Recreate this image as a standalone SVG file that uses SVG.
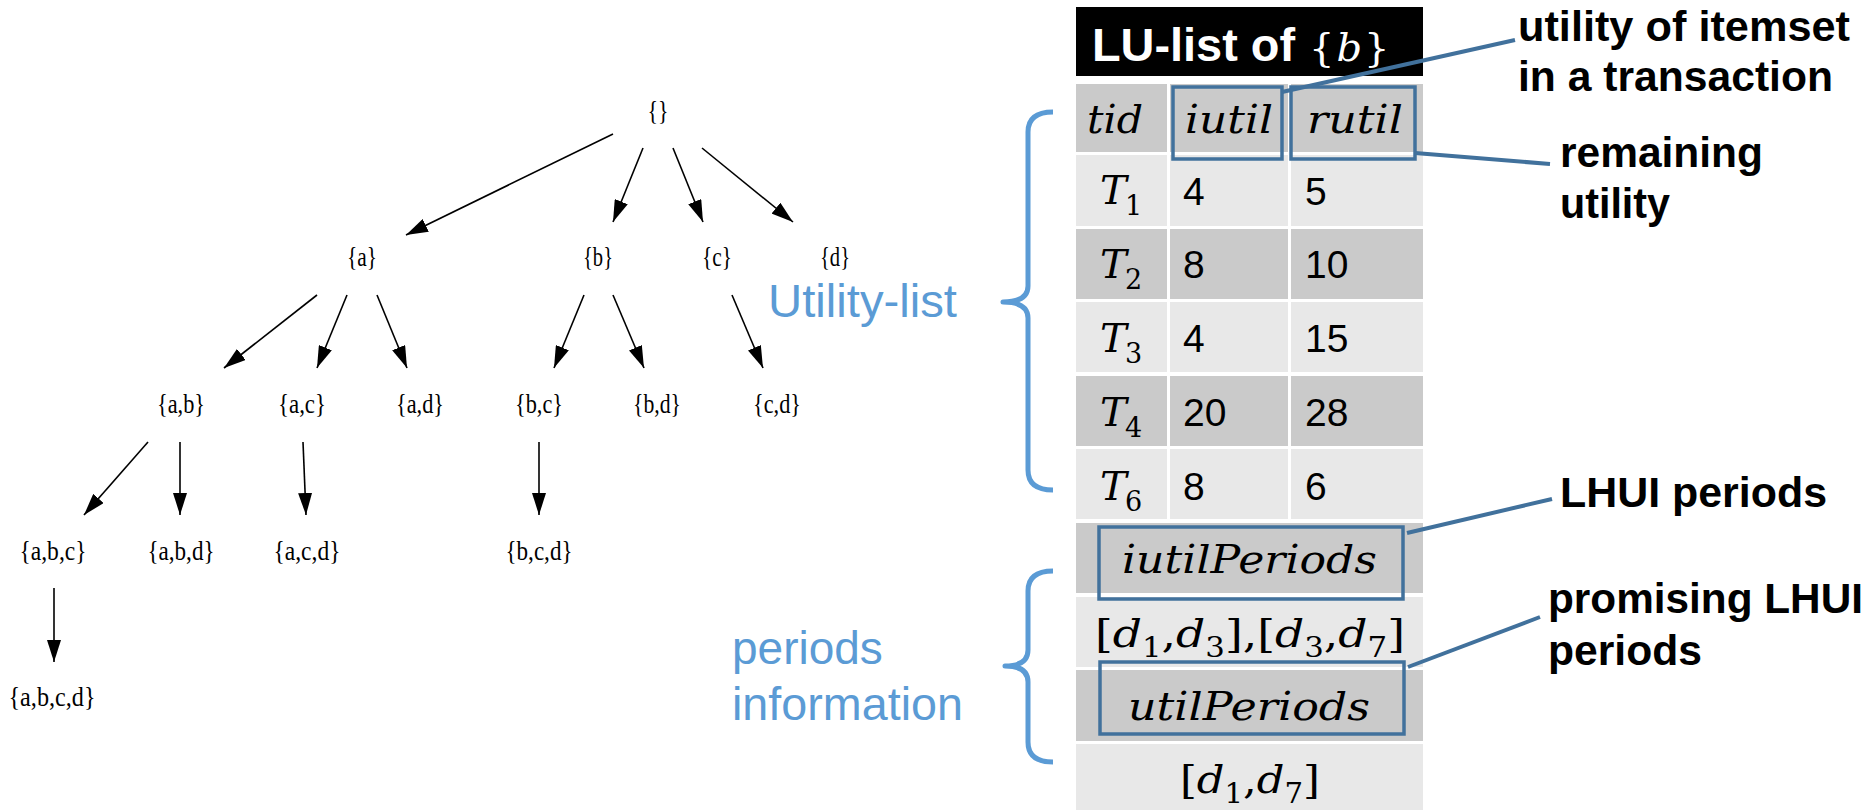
<svg xmlns="http://www.w3.org/2000/svg" width="1872" height="810" viewBox="0 0 1872 810">
<defs>
<style>
.node{font-family:"Liberation Serif","Times New Roman",serif;font-size:28px;fill:#000;text-anchor:middle}
.edge{stroke:#000;stroke-width:1.6;fill:none}
.dk{fill:#cacaca}
.lt{fill:#e8e8e8}
.m{font-family:"DejaVu Serif",serif;font-style:italic;font-size:40px;fill:#000}
.mn{font-family:"DejaVu Serif",serif;font-style:normal;font-size:40px;fill:#000}
.it{font-style:italic}
.sub{font-family:"DejaVu Serif",serif;font-style:normal;font-size:27px;fill:#000}
.num{font-family:"Liberation Sans",Arial,sans-serif;font-size:39px;fill:#000}
.box{fill:none;stroke:#41719c;stroke-width:3.5}
.cl{stroke:#41719c;stroke-width:4;fill:none}
.ct{font-family:"Liberation Sans",Arial,sans-serif;font-weight:bold;font-size:42.67px;fill:#000}
.bl{font-family:"Liberation Sans",Arial,sans-serif;font-size:46px;fill:#5b9bd5}
.brace{fill:none;stroke:#5b9bd5;stroke-width:5;stroke-linejoin:round;stroke-linecap:butt}
.hw{font-family:"DejaVu Serif",serif;font-size:40px;fill:#fff}
</style>
<marker id="ah" markerUnits="userSpaceOnUse" markerWidth="24" markerHeight="14" refX="22" refY="7" orient="auto">
<path d="M0,0 L22,7 L0,14 Z" fill="#000"/>
</marker>
</defs>
<rect width="1872" height="810" fill="#fff"/>

<g id="connectors">
<line class="edge" x1="613" y1="134" x2="406" y2="235" marker-end="url(#ah)"/>
<line class="edge" x1="643" y1="148" x2="613" y2="222" marker-end="url(#ah)"/>
<line class="edge" x1="673" y1="148" x2="703" y2="222" marker-end="url(#ah)"/>
<line class="edge" x1="702" y1="148" x2="793" y2="222" marker-end="url(#ah)"/>
<line class="edge" x1="317" y1="295" x2="224" y2="368" marker-end="url(#ah)"/>
<line class="edge" x1="347" y1="295" x2="317" y2="368" marker-end="url(#ah)"/>
<line class="edge" x1="377" y1="295" x2="407" y2="368" marker-end="url(#ah)"/>
<line class="edge" x1="584" y1="295" x2="554" y2="368" marker-end="url(#ah)"/>
<line class="edge" x1="613" y1="295" x2="644" y2="368" marker-end="url(#ah)"/>
<line class="edge" x1="732" y1="295" x2="763" y2="368" marker-end="url(#ah)"/>
<line class="edge" x1="148" y1="442" x2="84" y2="515" marker-end="url(#ah)"/>
<line class="edge" x1="180" y1="442" x2="180" y2="515" marker-end="url(#ah)"/>
<line class="edge" x1="303" y1="442" x2="306" y2="515" marker-end="url(#ah)"/>
<line class="edge" x1="539" y1="442" x2="539" y2="515" marker-end="url(#ah)"/>
<line class="edge" x1="54" y1="588" x2="54" y2="662" marker-end="url(#ah)"/>
</g>

<g id="n-empty"><text class="node" x="658" y="120" textLength="21" lengthAdjust="spacingAndGlyphs">{}</text></g>
<g id="n-a"><text class="node" x="362" y="266" textLength="30" lengthAdjust="spacingAndGlyphs">{a}</text></g>
<g id="n-b"><text class="node" x="598" y="266" textLength="30" lengthAdjust="spacingAndGlyphs">{b}</text></g>
<g id="n-c"><text class="node" x="717" y="266" textLength="30" lengthAdjust="spacingAndGlyphs">{c}</text></g>
<g id="n-d"><text class="node" x="835" y="266" textLength="30" lengthAdjust="spacingAndGlyphs">{d}</text></g>
<g id="n-ab"><text class="node" x="181" y="413" textLength="48" lengthAdjust="spacingAndGlyphs">{a,b}</text></g>
<g id="n-ac"><text class="node" x="302" y="413" textLength="48" lengthAdjust="spacingAndGlyphs">{a,c}</text></g>
<g id="n-ad"><text class="node" x="420" y="413" textLength="48" lengthAdjust="spacingAndGlyphs">{a,d}</text></g>
<g id="n-bc"><text class="node" x="539" y="413" textLength="48" lengthAdjust="spacingAndGlyphs">{b,c}</text></g>
<g id="n-bd"><text class="node" x="657" y="413" textLength="48" lengthAdjust="spacingAndGlyphs">{b,d}</text></g>
<g id="n-cd"><text class="node" x="777" y="413" textLength="48" lengthAdjust="spacingAndGlyphs">{c,d}</text></g>
<g id="n-abc"><text class="node" x="53" y="560" textLength="67" lengthAdjust="spacingAndGlyphs">{a,b,c}</text></g>
<g id="n-abd"><text class="node" x="181" y="560" textLength="67" lengthAdjust="spacingAndGlyphs">{a,b,d}</text></g>
<g id="n-acd"><text class="node" x="307" y="560" textLength="67" lengthAdjust="spacingAndGlyphs">{a,c,d}</text></g>
<g id="n-bcd"><text class="node" x="539" y="560" textLength="67" lengthAdjust="spacingAndGlyphs">{b,c,d}</text></g>
<g id="n-abcd"><text class="node" x="52" y="706" textLength="87" lengthAdjust="spacingAndGlyphs">{a,b,c,d}</text></g>

<g id="label-utility-list">
<text class="bl" x="768" y="317" font-size="45" textLength="189" lengthAdjust="spacingAndGlyphs">Utility-list</text>
<path class="brace" d="M1053,112 Q1028,112 1028,132 L1028,286 Q1028,302 1003,302 Q1028,302 1028,318 L1028,470 Q1028,490 1053,490"/>
</g>
<g id="label-periods">
<text class="bl" x="732" y="664">periods</text>
<text class="bl" x="732" y="720" textLength="231" lengthAdjust="spacingAndGlyphs">information</text>
<path class="brace" d="M1053,571 Q1028,571 1028,591 L1028,650 Q1028,666 1005,666 Q1028,666 1028,682 L1028,742 Q1028,762 1053,762"/>
</g>

<g id="lu-list">
<rect x="1076" y="7" width="347" height="69" fill="#000"/>
<text x="1092" y="61" font-family="Liberation Sans, Arial, sans-serif" font-weight="bold" font-size="47" fill="#fff" textLength="203" lengthAdjust="spacingAndGlyphs">LU-list of</text>
<text class="hw" x="1309" y="61">{<tspan class="it" dx="2">b</tspan><tspan dx="2">}</tspan></text>

<rect class="dk" x="1076" y="84" width="91" height="68"/>
<rect class="dk" x="1170" y="84" width="118" height="68"/>
<rect class="dk" x="1291" y="84" width="132" height="68"/>
<rect class="lt" x="1076" y="155" width="91" height="71"/>
<rect class="lt" x="1170" y="155" width="118" height="71"/>
<rect class="lt" x="1291" y="155" width="132" height="71"/>
<rect class="dk" x="1076" y="229" width="91" height="70"/>
<rect class="dk" x="1170" y="229" width="118" height="70"/>
<rect class="dk" x="1291" y="229" width="132" height="70"/>
<rect class="lt" x="1076" y="302" width="91" height="70"/>
<rect class="lt" x="1170" y="302" width="118" height="70"/>
<rect class="lt" x="1291" y="302" width="132" height="70"/>
<rect class="dk" x="1076" y="376" width="91" height="70"/>
<rect class="dk" x="1170" y="376" width="118" height="70"/>
<rect class="dk" x="1291" y="376" width="132" height="70"/>
<rect class="lt" x="1076" y="449" width="91" height="70"/>
<rect class="lt" x="1170" y="449" width="118" height="70"/>
<rect class="lt" x="1291" y="449" width="132" height="70"/>
<rect class="dk" x="1076" y="523" width="347" height="70"/>
<rect class="lt" x="1076" y="597" width="347" height="70"/>
<rect class="dk" x="1076" y="670" width="347" height="71"/>
<rect class="lt" x="1076" y="744" width="347" height="66"/>

<text class="m" x="1087" y="133" textLength="56" lengthAdjust="spacingAndGlyphs">tid</text>
<text class="m" x="1185" y="133" textLength="88" lengthAdjust="spacingAndGlyphs">iutil</text>
<text class="m" x="1307" y="133" textLength="96" lengthAdjust="spacingAndGlyphs">rutil</text>

<text class="m" x="1100" y="204">T</text><text class="sub" x="1125" y="215">1</text>
<text class="m" x="1100" y="278">T</text><text class="sub" x="1125" y="289">2</text>
<text class="m" x="1100" y="352">T</text><text class="sub" x="1125" y="363">3</text>
<text class="m" x="1100" y="426">T</text><text class="sub" x="1125" y="437">4</text>
<text class="m" x="1100" y="500">T</text><text class="sub" x="1125" y="511">6</text>

<text class="num" x="1183" y="205">4</text><text class="num" x="1305" y="205">5</text>
<text class="num" x="1183" y="278">8</text><text class="num" x="1305" y="278">10</text>
<text class="num" x="1183" y="352">4</text><text class="num" x="1305" y="352">15</text>
<text class="num" x="1183" y="426">20</text><text class="num" x="1305" y="426">28</text>
<text class="num" x="1183" y="500">8</text><text class="num" x="1305" y="500">6</text>

<text class="m" x="1122" y="573" textLength="255" lengthAdjust="spacingAndGlyphs">iutilPeriods</text>
<text class="mn" x="1095" y="647" textLength="310" lengthAdjust="spacingAndGlyphs">[<tspan class="it">d</tspan><tspan font-size="27" dy="10">1</tspan><tspan dy="-10">,</tspan><tspan class="it">d</tspan><tspan font-size="27" dy="10">3</tspan><tspan dy="-10">],[</tspan><tspan class="it">d</tspan><tspan font-size="27" dy="10">3</tspan><tspan dy="-10">,</tspan><tspan class="it">d</tspan><tspan font-size="27" dy="10">7</tspan><tspan dy="-10">]</tspan></text>
<text class="m" x="1128" y="720" textLength="242" lengthAdjust="spacingAndGlyphs">utilPeriods</text>
<text class="mn" x="1180" y="793" textLength="140" lengthAdjust="spacingAndGlyphs">[<tspan class="it">d</tspan><tspan font-size="27" dy="10">1</tspan><tspan dy="-10">,</tspan><tspan class="it">d</tspan><tspan font-size="27" dy="10">7</tspan><tspan dy="-10">]</tspan></text>

<rect class="box" x="1173" y="87" width="109" height="72"/>
<rect class="box" x="1291" y="87" width="124" height="72"/>
<rect class="box" x="1099" y="527" width="304" height="72"/>
<rect class="box" x="1100" y="662" width="304" height="72"/>
</g>

<g id="callouts">
<line class="cl" x1="1282" y1="92" x2="1515" y2="40"/>
<line class="cl" x1="1415" y1="153" x2="1550" y2="164"/>
<line class="cl" x1="1407" y1="533" x2="1552" y2="499"/>
<line class="cl" x1="1408" y1="667" x2="1540" y2="617"/>
<text class="ct" x="1518" y="41" textLength="332" lengthAdjust="spacingAndGlyphs">utility of itemset</text>
<text class="ct" x="1518" y="91" textLength="315" lengthAdjust="spacingAndGlyphs">in a transaction</text>
<text class="ct" x="1560" y="167" textLength="203" lengthAdjust="spacingAndGlyphs">remaining</text>
<text class="ct" x="1560" y="218" textLength="110" lengthAdjust="spacingAndGlyphs">utility</text>
<text class="ct" x="1560" y="507" textLength="267" lengthAdjust="spacingAndGlyphs">LHUI periods</text>
<text class="ct" x="1548" y="613" textLength="315" lengthAdjust="spacingAndGlyphs">promising LHUI</text>
<text class="ct" x="1548" y="665" textLength="154" lengthAdjust="spacingAndGlyphs">periods</text>
</g>
</svg>
